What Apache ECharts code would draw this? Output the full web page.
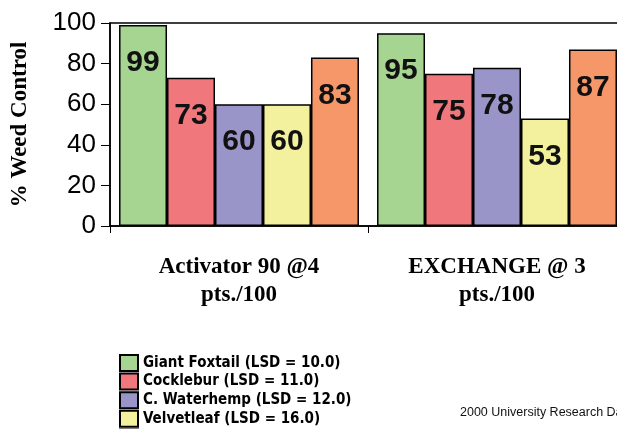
<!DOCTYPE html>
<html>
<head>
<meta charset="utf-8">
<script src="https://cdn.jsdelivr.net/npm/echarts@6/dist/echarts.min.js"></script>
<style>
html,body{margin:0;padding:0;overflow:hidden;background:#fff;width:617px;height:429px;}
#chart{width:680px;height:470px;}
</style>
</head>
<body>
<div id="chart"></div>
<script>
const categories = ["Activator 90 @4\npts./100", "EXCHANGE @ 3\npts./100"];
const seriesNames = [
  "Giant Foxtail (LSD = 10.0)",
  "Cocklebur (LSD = 11.0)",
  "C. Waterhemp (LSD = 12.0)",
  "Velvetleaf (LSD = 16.0)",
  "Morningglory (LSD = 9.0)"
];
const giantFoxtail = [99, 95];
const cocklebur = [73, 75];
const waterhemp = [60, 78];
const velvetleaf = [60, 53];
const morningglory = [83, 87];
const seriesColors = ["#a6d491", "#f0787c", "#9995c8", "#f4f19e", "#f6976a"];
const yTicks = [0, 20, 40, 60, 80, 100];

const values = [giantFoxtail, cocklebur, waterhemp, velvetleaf, morningglory];
const narrow = "'Liberation Sans Narrow','DejaVu Sans Condensed','Liberation Sans',sans-serif";
const serif = "'Liberation Serif','Times New Roman',serif";

const chart = echarts.init(document.getElementById('chart'), null, {renderer: 'canvas'});
chart.setOption({
  animation: false,
  backgroundColor: '#fff',
  grid: {
    left: 110, top: 23, width: 516, height: 203,
    show: true, borderColor: '#000', borderWidth: 1.5, backgroundColor: 'transparent'
  },
  legend: {
    orient: 'vertical', left: 114, top: 349,
    itemWidth: 18, itemHeight: 16, itemGap: 0.6,
    icon: 'rect',
    textStyle: {fontFamily: narrow, fontWeight: 'bold', fontSize: 15, lineHeight: 18, color: '#000'},
    data: seriesNames
  },
  xAxis: {
    type: 'category',
    data: categories,
    axisLine: {lineStyle: {color: '#000', width: 1.5}},
    axisTick: {show: true, length: 7, lineStyle: {color: '#000', width: 1}},
    axisLabel: {
      margin: 27, color: '#000', fontFamily: serif,
      fontWeight: 'bold', fontSize: 23, lineHeight: 28
    }
  },
  yAxis: {
    type: 'value', min: 0, max: 100, interval: 20,
    name: '% Weed Control', nameLocation: 'middle', nameGap: 78,
    nameTextStyle: {fontFamily: serif, fontWeight: 'bold', fontSize: 23, color: '#000'},
    axisLine: {show: true, lineStyle: {color: '#000', width: 1.5}},
    axisTick: {show: true, length: 9, lineStyle: {color: '#000', width: 1}},
    splitLine: {show: false},
    axisLabel: {
      margin: 14, color: '#000', fontFamily: "'Liberation Sans',Arial,sans-serif", fontSize: 26,
      formatter: v => yTicks.includes(v) ? String(v) : ''
    }
  },
  series: values.map((d, i) => ({
    type: 'bar',
    name: seriesNames[i],
    data: d,
    barGap: '0%',
    barCategoryGap: '7%',
    itemStyle: {color: seriesColors[i], borderColor: '#000', borderWidth: 1.5},
    label: {
      show: true, position: 'insideTop', distance: 23,
      fontFamily: "'Liberation Sans',Arial,sans-serif", fontWeight: 'bold', fontSize: 30, color: '#111'
    }
  })),
  graphic: [{
    type: 'text', left: 460, top: 406,
    style: {text: '2000 University Research Data', fontFamily: "'Liberation Sans',Arial,sans-serif", fontSize: 12.5, fill: '#111'}
  }]
});
</script>
</body>
</html>
